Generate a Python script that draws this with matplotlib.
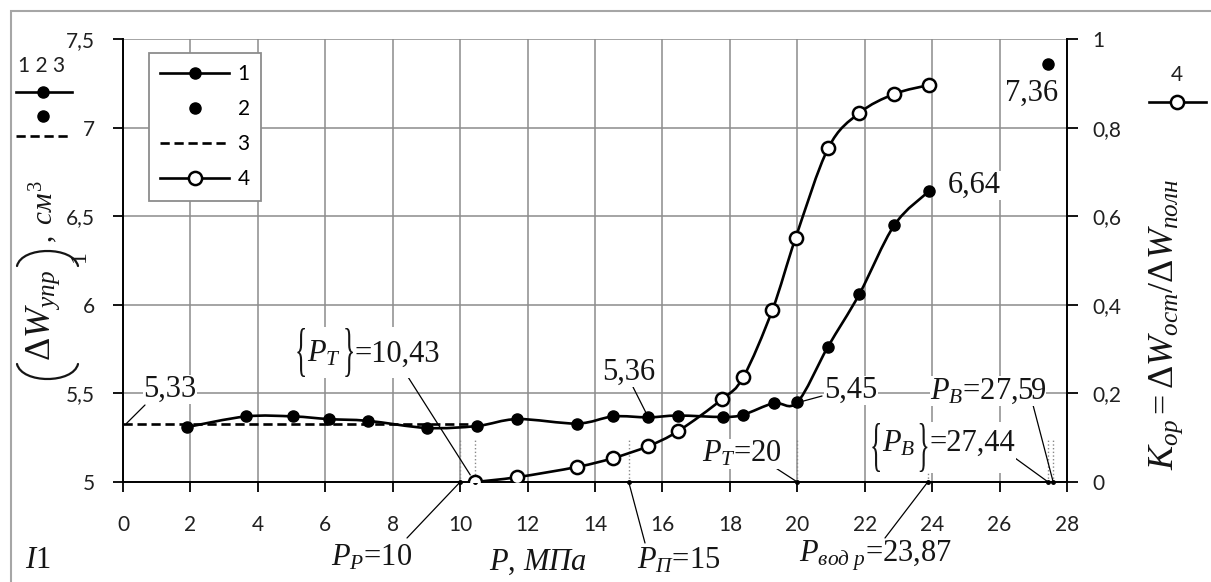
import matplotlib
matplotlib.use('Agg')
import matplotlib.pyplot as plt
from matplotlib.path import Path
from matplotlib.patches import PathPatch, Rectangle
from matplotlib.lines import Line2D
from matplotlib.textpath import TextPath
from matplotlib.font_manager import FontProperties
from matplotlib.transforms import IdentityTransform
import numpy as np

plt.rcParams['font.family'] = ['Lato', 'DejaVu Sans']
plt.rcParams['mathtext.fontset'] = 'custom'
plt.rcParams['mathtext.rm'] = 'Liberation Serif'
plt.rcParams['mathtext.it'] = 'Liberation Serif:italic'
plt.rcParams['mathtext.bf'] = 'Liberation Serif:bold'

# curve 1: (dW_upr)_1, cm^3 (left axis)
p1 = [1.9, 3.65, 5.05, 6.1, 7.27, 9.02, 10.5, 11.7, 13.47, 14.54, 15.58,
      16.47, 17.8, 18.4, 19.3, 20.0, 20.9, 21.84, 22.88, 23.9]
w1 = [5.31, 5.37, 5.37, 5.355, 5.345, 5.305, 5.316, 5.355, 5.33, 5.37, 5.365,
      5.375, 5.367, 5.38, 5.445, 5.45, 5.76, 6.06, 6.45, 6.64]
# point 2
p2 = [27.45]
w2 = [7.36]
# line 3: mean elastic value
p3 = [0, 10.43]
w3 = [5.33, 5.33]
# curve 4: K_op (right axis)
p4 = [10.45, 11.7, 13.47, 14.54, 15.58, 16.47, 17.77, 18.4, 19.26, 19.95,
      20.92, 21.84, 22.88, 23.9]
k4 = [0.0, 0.011, 0.034, 0.054, 0.081, 0.115, 0.187, 0.237, 0.388, 0.551,
      0.754, 0.833, 0.876, 0.896]

# characteristic pressures
p_marks = [10, 10.43, 15, 20, 23.87, 27.44, 27.59]

xticks = list(range(0, 29, 2))
yticks_l = [5, 5.5, 6, 6.5, 7, 7.5]
ylabels_l = ['5', '5,5', '6', '6,5', '7', '7,5']
yticks_r = [0, 0.2, 0.4, 0.6, 0.8, 1]
ylabels_r = ['0', '0,2', '0,4', '0,6', '0,8', '1']

W, H = 1211, 582
fig = plt.figure(figsize=(W / 100, H / 100), dpi=100)
ax = fig.add_axes([123 / W, 1 - 482 / H, (1067 - 123) / W, (482 - 39) / H])
ax2 = ax.twinx()
renderer = fig.canvas.get_renderer()

SER = 'Liberation Serif'
INK = '#151515'


def fx(x):
    return x / W


def fy(y):
    return 1 - y / H


def smooth(a, x, y, **kw):
    # smoothed line through the points (like excel "smoothed line")
    pts = np.column_stack([x, y]).astype(float)
    n = len(pts)
    verts = [pts[0]]
    codes = [Path.MOVETO]
    for i in range(n - 1):
        q0 = pts[max(i - 1, 0)]
        q1 = pts[i]
        q2 = pts[i + 1]
        q3 = pts[min(i + 2, n - 1)]
        verts += [q1 + (q2 - q0) / 6, q2 - (q3 - q1) / 6, q2]
        codes += [Path.CURVE4] * 3
    a.add_patch(PathPatch(Path(verts, codes), fill=False, **kw))


def glyph(ch, x0, x1, y0, y1):
    # stretched brace glyph in pixel box (x0..x1, y0..y1)
    tp = TextPath((0, 0), ch, size=100, prop=FontProperties(family=SER))
    v = tp.vertices
    u = (v[:, 0] - v[:, 0].min()) / np.ptp(v[:, 0])
    w = (v[:, 1] - v[:, 1].min()) / np.ptp(v[:, 1])
    X = x0 + u * (x1 - x0)
    Y = (H - y1) + w * (y1 - y0)
    fig.add_artist(PathPatch(Path(np.column_stack([X, Y]), tp.codes),
                             transform=IdentityTransform(), facecolor=INK,
                             edgecolor='none', zorder=8))


def paren(x0, x1, yend, yapex):
    # big rotated parenthesis drawn as a thin arc
    cy = yend + 4 / 3 * (yapex - yend)
    dx = (x1 - x0) * 0.08
    verts = [(x0, H - yend), (x0 + dx, H - cy), (x1 - dx, H - cy), (x1, H - yend)]
    codes = [Path.MOVETO, Path.CURVE4, Path.CURVE4, Path.CURVE4]
    fig.add_artist(PathPatch(Path(verts, codes), transform=IdentityTransform(),
                             fill=False, edgecolor=INK, lw=1.6, capstyle='round',
                             zorder=8))


def whitebox(x0, x1, y0, y1):
    fig.add_artist(Rectangle((fx(x0), fy(y1)), fx(x1) - fx(x0), fy(y0) - fy(y1),
                             transform=fig.transFigure, facecolor='white',
                             edgecolor='none', zorder=6))


def btext(x, y, s, size=22, **kw):
    # text placed by its left end and baseline, pixel coords
    return fig.text(fx(x), fy(y), s, fontsize=size, family=SER, ha='left',
                    va='baseline', color=INK, zorder=7, **kw)


def braced(x0, base, ytop, ybot, inner, tail):
    glyph('{', x0, x0 + 10, ytop, ybot)
    t = btext(x0 + 12, base, inner)
    xr = t.get_window_extent(renderer).x1 + 2
    glyph('}', xr, xr + 10, ytop, ybot)
    t2 = btext(xr + 12, base, tail)
    xe = t2.get_window_extent(renderer).x1
    whitebox(x0 - 1, xe + 1, ytop - 1, ybot + 1)


LW = 1.9
ax.plot(p3, w3, color='k', lw=LW, ls=(0, (3.5, 1.8)), zorder=3)
smooth(ax, p1, w1, edgecolor='k', lw=LW, zorder=4)
ax.plot(p1, w1, 'o', color='k', ms=8, zorder=5)
ax.plot(p2, w2, 'o', color='k', ms=8, zorder=5)

smooth(ax2, p4, k4, edgecolor='k', lw=LW, zorder=4)
ax2.plot(p4, k4, 'o', mfc='white', mec='k', mew=1.8, ms=9.5, zorder=5)

# dotted marks of characteristic pressures
for p in p_marks:
    top = 5.06 if p == 23.87 else 5.24
    ax.plot([p, p], [5, top], color='#888888', lw=1, ls=':', zorder=2)
ax.plot(p_marks, [5] * len(p_marks), 'o', color='k', ms=2.5, zorder=6, clip_on=False)

ax.set_xlim(0, 28)
ax.set_ylim(5, 7.5)
ax2.set_ylim(0, 1)
ax.set_xticks(xticks)
ax.set_yticks(yticks_l)
ax.set_yticklabels(ylabels_l)
ax2.set_yticks(yticks_r)
ax2.set_yticklabels(ylabels_r)

ax.grid(True, color='#8c8c8c', lw=1.1)
ax.set_axisbelow(True)
for s in ['top', 'right']:
    ax.spines[s].set_visible(False)
for s in ['top', 'left', 'bottom']:
    ax2.spines[s].set_visible(False)
for s in ['left', 'bottom']:
    ax.spines[s].set_linewidth(1.4)
ax2.spines['right'].set_linewidth(1.4)
ax.tick_params(axis='x', direction='out', length=7, width=1.3, labelsize=15, pad=17, labelcolor='#202020')
ax.tick_params(axis='y', direction='out', length=7, width=1.3, labelsize=15, pad=13, labelcolor='#202020')
ax2.tick_params(axis='y', direction='out', length=8, width=1.3, labelsize=15, pad=10, labelcolor='#202020')

# inner legend
handles = [
    Line2D([], [], color='k', lw=LW, marker='o', ms=8),
    Line2D([], [], color='k', lw=0, marker='o', ms=8),
    Line2D([], [], color='k', lw=LW, ls=(0, (3.5, 1.8))),
    Line2D([], [], color='k', lw=LW, marker='o', ms=9.5, mfc='white', mew=1.8),
]
leg = ax2.legend(handles, ['1', '2', '3', '4'], loc='upper left',
                 bbox_to_anchor=(149 / W, 1 - 53 / H), bbox_transform=fig.transFigure,
                 borderaxespad=0, fontsize=15, handlelength=3.3, handletextpad=0.4,
                 labelspacing=0.72, borderpad=0.55, fancybox=False, framealpha=1)
leg.get_frame().set_edgecolor('#8c8c8c')
leg.get_frame().set_linewidth(1.3)

# outer small legends
fig.text(fx(42), fy(66), '1 2 3', fontsize=15, ha='center', va='center', color='#202020')
fig.add_artist(Line2D([fx(16), fx(43), fx(72)], [fy(92)] * 3, color='k', lw=LW,
                      marker='o', ms=8, markevery=[1], transform=fig.transFigure))
fig.add_artist(Line2D([fx(43)], [fy(116)], color='k', lw=0, marker='o', ms=8,
                      transform=fig.transFigure))
fig.add_artist(Line2D([fx(16), fx(68)], [fy(136)] * 2, color='k', lw=LW,
                      ls=(0, (3.5, 1.8)), transform=fig.transFigure))
fig.text(fx(1177), fy(75), '4', fontsize=15, ha='center', va='center', color='#202020')
fig.add_artist(Line2D([fx(1149), fx(1177), fx(1206)], [fy(102)] * 3, color='k', lw=LW,
                      marker='o', ms=9.5, mfc='white', mew=1.8, markevery=[1],
                      transform=fig.transFigure))

# left axis title: (dW_upr)_1, cm^3
rot = dict(rotation=90, rotation_mode='anchor')
paren(17, 78, 364, 379)
btext(50, 361, r'$\Delta W_{упр}$', size=26, **rot)
paren(17, 78, 266, 251)
btext(85, 262, '1', size=17, **rot)
btext(53, 243, r'$,\ см^3$', size=21, **rot)

# right axis title
btext(1173, 470, r'$K_{ор}=\Delta W_{ост}/\Delta W_{полн}$', size=26, **rot)

fig.text(fx(538), fy(562), r'$P,\,МПа$', fontsize=22, family=SER, ha='center',
         va='center', color=INK)
fig.text(fx(38), fy(560), r'$I$1', fontsize=22, family=SER, ha='center', va='center',
         color=INK)

# value labels and leader lines
wb = dict(facecolor='white', edgecolor='none', pad=0)
leaders = [
    ((0.1, 5.33), (145, 405)),
    ((10.3, 5.04), (408, 377)),
    ((10, 5), (407, 538)),
    ((15, 5), (645, 543)),
    ((15.58, 5.365), (633, 387)),
    ((20, 5), (768, 463)),
    ((20.05, 5.45), (822, 396)),
    ((27.59, 5), (1033, 405)),
    ((27.44, 5), (1015, 458)),
    ((23.87, 5), (885, 538)),
]
for xy, (lx, ly) in leaders:
    ax2.annotate('', xy=xy, xycoords=ax.transData, xytext=(lx, H - ly),
                 textcoords='figure pixels', annotation_clip=False,
                 arrowprops=dict(arrowstyle='-', lw=0.9, color='k', shrinkA=0, shrinkB=0))

plain = [
    ('5,33', (170, 389)),
    (r'$P_Р$=10', (372, 558)),
    (r'$P_П$=15', (679, 561)),
    ('5,36', (629, 372)),
    (r'$P_T$=20', (742, 454)),
    ('5,45', (851, 390)),
    (r'$P_B$=27,59', (988, 391)),
    (r'$P_{вод\ р}$=23,87', (876, 556)),
    ('6,64', (974, 185)),
    ('7,36', (1032, 93)),
]
for txt, (tx, ty) in plain:
    fig.text(fx(tx), fy(ty), txt, fontsize=22, family=SER, ha='center', va='center',
             bbox=wb, color=INK, zorder=7)

# braced values {P_T} and {P_B}
braced(295, 362, 328, 377, r'$P_T$', '=10,43')
braced(870, 451, 423, 472, r'$P_B$', '=27,44')

fig.add_artist(Rectangle((fx(11), -0.1), 1.2, fy(11) + 0.1, transform=fig.transFigure,
                         fill=False, edgecolor='#a6a6a6', lw=1.5))

fig.savefig('out.png', dpi=100)
